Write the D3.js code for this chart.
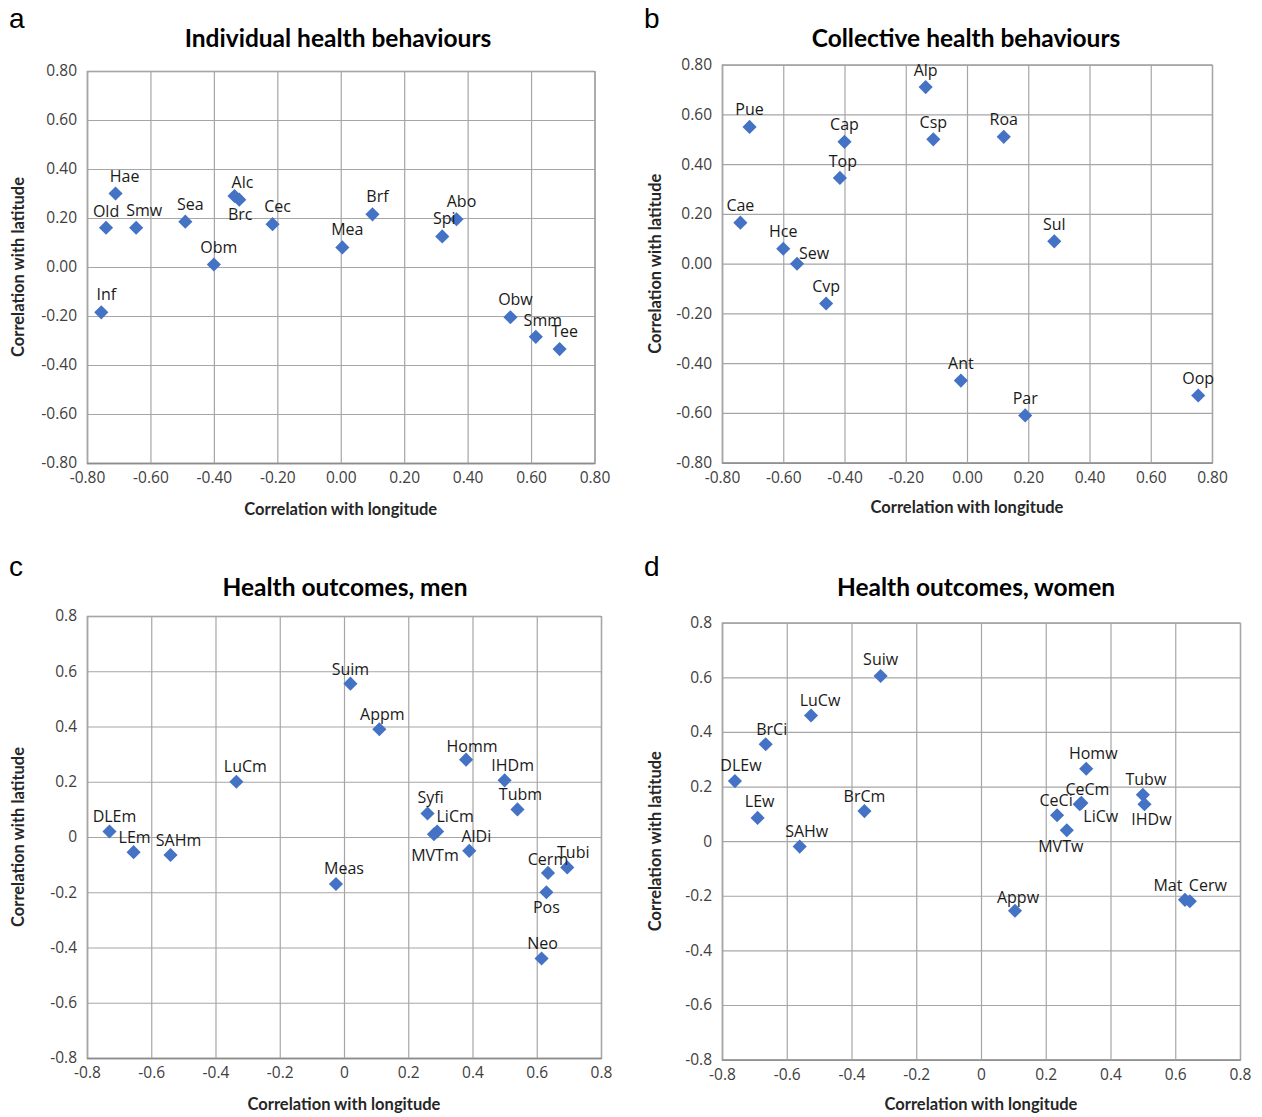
<!DOCTYPE html>
<html>
<head>
<meta charset="utf-8">
<script src="https://cdn.jsdelivr.net/npm/d3@7"></script>
<style>
  body { margin: 0; background: #fff; }
  svg { display: block; }
</style>
</head>
<body>
<div id="chart"></div>
<script>
// tick values shared by all four panels
var tickValues = [-0.8, -0.6, -0.4, -0.2, 0, 0.2, 0.4, 0.6, 0.8];

// a. Individual health behaviours
var aNames = ["Hae", "Old", "Smw", "Sea", "Alc", "Brc", "Cec", "Obm", "Inf", "Mea", "Brf", "Spi", "Abo", "Obw", "Smm", "Tee"];
var aLon = [-0.71, -0.74, -0.645, -0.49, -0.335, -0.32, -0.215, -0.40, -0.755, 0.005, 0.10, 0.32, 0.365, 0.535, 0.615, 0.69];
var aLat = [0.30, 0.16, 0.16, 0.185, 0.29, 0.275, 0.175, 0.01, -0.185, 0.08, 0.215, 0.125, 0.195, -0.205, -0.285, -0.335];

// b. Collective health behaviours
var bNames = ["Pue", "Cap", "Top", "Cae", "Hce", "Sew", "Cvp", "Alp", "Csp", "Roa", "Sul", "Ant", "Par", "Oop"];
var bLon = [-0.71, -0.40, -0.415, -0.74, -0.60, -0.555, -0.46, -0.135, -0.11, 0.12, 0.285, -0.02, 0.19, 0.755];
var bLat = [0.55, 0.49, 0.345, 0.165, 0.06, 0.00, -0.16, 0.71, 0.50, 0.51, 0.09, -0.47, -0.61, -0.53];

// c. Health outcomes, men
var cNames = ["LuCm", "DLEm", "LEm", "SAHm", "Suim", "Appm", "Homm", "IHDm", "Tubm", "Syfi", "LiCm", "MVTm", "AlDi", "Cerm", "Tubi", "Pos", "Neo", "Meas"];
var cLon = [-0.335, -0.73, -0.655, -0.54, 0.02, 0.11, 0.38, 0.50, 0.54, 0.26, 0.29, 0.28, 0.39, 0.635, 0.695, 0.63, 0.615, -0.025];
var cLat = [0.20, 0.02, -0.055, -0.065, 0.555, 0.39, 0.28, 0.205, 0.10, 0.085, 0.02, 0.01, -0.05, -0.13, -0.11, -0.20, -0.44, -0.17];

// d. Health outcomes, women
var dNames = ["Suiw", "LuCw", "BrCi", "DLEw", "LEw", "SAHw", "BrCm", "Homw", "CeCm", "LiCw", "CeCi", "MVTw", "Tubw", "IHDw", "Appw", "Mat", "Cerw"];
var dLon = [-0.31, -0.525, -0.665, -0.76, -0.69, -0.56, -0.36, 0.325, 0.31, 0.305, 0.235, 0.265, 0.50, 0.505, 0.105, 0.63, 0.645];
var dLat = [0.605, 0.46, 0.355, 0.22, 0.085, -0.02, 0.11, 0.265, 0.14, 0.135, 0.095, 0.04, 0.17, 0.135, -0.255, -0.215, -0.22];

// label placement (pixels from the marker), kept apart from the data
var labelNudge = {
  a: { def: [5, -18], Hae: [9, -18], Smw: [8, -18], Alc: [8, -14], Brc: [1, 14], Spi: [2, -18], Old: [0, -17], Smm: [7, -17] },
  b: { def: [0, -17.5], Sew: [17, -11], Top: [3, -17] },
  c: { def: [3, -15.5], LuCm: [9, -16], DLEm: [5, -15], LEm: [1, -15], SAHm: [8, -15], Suim: [0, -15], Homm: [6, -14],
       IHDm: [8, -15], LiCm: [18, -15], MVTm: [1, 21], AlDi: [7, -15], Cerm: [0, -14], Tubi: [6, -15], Pos: [0, 15],
       Neo: [1, -16], Meas: [8, -16], Syfi: [3, -17] },
  d: { def: [3, -16], Suiw: [0, -17], LuCw: [9, -16], BrCi: [6, -15], DLEw: [6, -16], LEw: [2, -17], SAHw: [7, -16],
       BrCm: [0, -15], Homw: [7, -16], CeCm: [6, -14], CeCi: [-1, -15], LiCw: [21, 12], MVTw: [-6, 16], Tubw: [3, -16],
       IHDw: [7, 15], Appw: [3, -14], Mat: [-17, -15], Cerw: [18, -16] }
};

var locale = d3.formatLocale({ decimal: ".", thousands: ",", grouping: [3], currency: ["", ""], minus: "-" });
var fmt2 = locale.format(".2f");
var fmt1 = function (v) { return Math.abs(v) < 1e-9 ? "0" : locale.format(".1f")(v); };

var panels = [
  { key: "a", letter: "a", title: "Individual health behaviours", names: aNames, lon: aLon, lat: aLat, fmt: fmt2,
    box: { left: 87, right: 594.5, top: 71, bottom: 463 }, titleX: 338, titleY: 47, letterPos: [9, 28], xLabelY: 515, yLabelX: 18 },
  { key: "b", letter: "b", title: "Collective health behaviours", names: bNames, lon: bLon, lat: bLat, fmt: fmt2,
    box: { left: 722, right: 1212, top: 64.7, bottom: 462.7 }, titleX: 966, titleY: 47, letterPos: [644, 28], xLabelY: 513, yLabelX: 655 },
  { key: "c", letter: "c", title: "Health outcomes, men", names: cNames, lon: cLon, lat: cLat, fmt: fmt1,
    box: { left: 87, right: 601, top: 616, bottom: 1058 }, titleX: 345, titleY: 596, letterPos: [9, 576], xLabelY: 1110, yLabelX: 18 },
  { key: "d", letter: "d", title: "Health outcomes, women", names: dNames, lon: dLon, lat: dLat, fmt: fmt1,
    box: { left: 722, right: 1240, top: 622.7, bottom: 1059.6 }, titleX: 976, titleY: 596, letterPos: [644, 576], xLabelY: 1110, yLabelX: 655 }
];

var svg = d3.select("#chart").append("svg")
  .attr("width", 1262)
  .attr("height", 1117)
  .style("background", "#fff");

var diamond = d3.symbol().type(d3.symbolSquare).size(100);

panels.forEach(function (p) {
  var b = p.box;
  var w = b.right - b.left, h = b.bottom - b.top;
  var x = d3.scaleLinear().domain([-0.8, 0.8]).range([0, w]);
  var y = d3.scaleLinear().domain([-0.8, 0.8]).range([h, 0]);

  var g = svg.append("g").attr("transform", "translate(" + b.left + "," + b.top + ")");

  // horizontal gridlines + y ticks
  var ya = g.append("g")
    .call(d3.axisLeft(y).tickValues(tickValues).tickSize(-w).tickPadding(10).tickFormat(p.fmt));
  // vertical gridlines + x ticks
  var xa = g.append("g")
    .attr("transform", "translate(0," + h + ")")
    .call(d3.axisBottom(x).tickValues(tickValues).tickSize(-h).tickPadding(9).tickFormat(p.fmt));

  [xa, ya].forEach(function (a) {
    a.select(".domain").attr("stroke", "#8c8c8c").attr("stroke-width", 1.3);
    a.selectAll(".tick line").attr("stroke", "#a6a6a6").attr("stroke-width", 1.2);
    a.selectAll(".tick text")
      .attr("fill", "#404040")
      .style("font-family", "'Open Sans', sans-serif")
      .style("font-size", "15.5px");
  });

  // points
  var pts = p.names.map(function (n, i) { return { name: n, lon: p.lon[i], lat: p.lat[i] }; });
  g.selectAll("path.pt").data(pts).enter().append("path")
    .attr("class", "pt")
    .attr("d", diamond)
    .attr("fill", "#4472C4")
    .attr("transform", function (d) { return "translate(" + x(d.lon) + "," + y(d.lat) + ") rotate(45)"; });

  var nud = labelNudge[p.key];
  g.selectAll("text.lbl").data(pts).enter().append("text")
    .attr("class", "lbl")
    .attr("x", function (d) { return x(d.lon) + (nud[d.name] || nud.def)[0]; })
    .attr("y", function (d) { return y(d.lat) + (nud[d.name] || nud.def)[1]; })
    .attr("text-anchor", "middle")
    .attr("dominant-baseline", "central")
    .attr("fill", "#1a1a1a")
    .style("font-family", "'Open Sans', sans-serif")
    .style("font-size", "16px")
    .text(function (d) { return d.name; });

  // title
  svg.append("text")
    .attr("x", p.titleX)
    .attr("y", p.titleY)
    .attr("text-anchor", "middle")
    .attr("font-weight", "bold")
    .style("font-family", "Lato, sans-serif")
    .style("font-size", "24.5px")
    .attr("fill", "#000")
    .text(p.title);

  // axis titles
  svg.append("text")
    .attr("x", b.left + w / 2)
    .attr("y", p.xLabelY)
    .attr("text-anchor", "middle")
    .attr("font-weight", "bold")
    .style("font-family", "Lato, sans-serif")
    .style("font-size", "16.5px")
    .attr("fill", "#262626")
    .text("Correlation with longitude");

  svg.append("text")
    .attr("transform", "translate(" + p.yLabelX + "," + (b.top + h / 2) + ") rotate(-90)")
    .attr("text-anchor", "middle")
    .attr("dominant-baseline", "central")
    .attr("font-weight", "bold")
    .style("font-family", "Lato, sans-serif")
    .style("font-size", "16.5px")
    .attr("fill", "#262626")
    .text("Correlation with latitude");

  // panel letter
  svg.append("text")
    .attr("x", p.letterPos[0])
    .attr("y", p.letterPos[1])
    .style("font-family", "'Liberation Sans', Arial, sans-serif")
    .style("font-size", "28px")
    .attr("fill", "#000")
    .text(p.letter);
});
</script>
</body>
</html>
